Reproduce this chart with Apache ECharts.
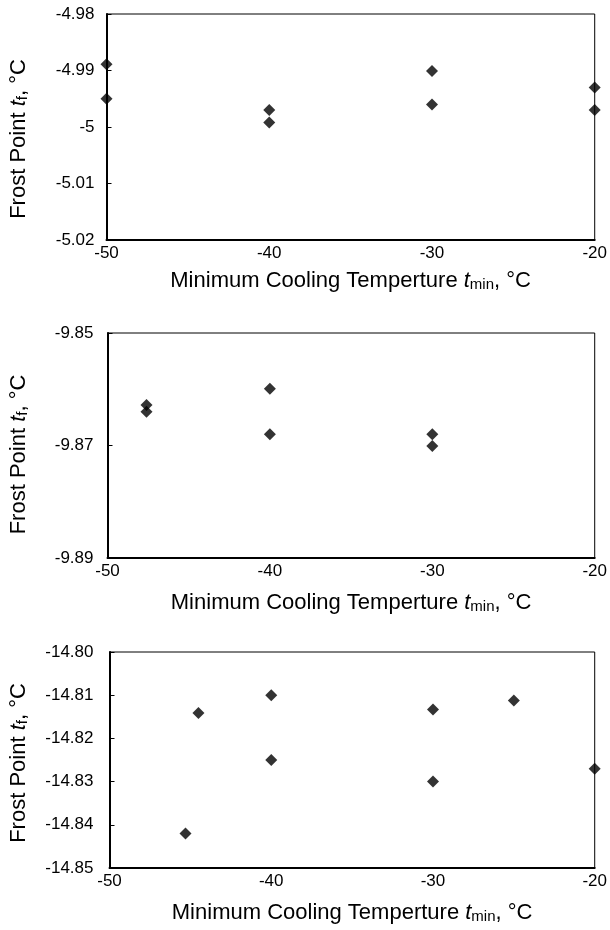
<!DOCTYPE html>
<html>
<head>
<meta charset="utf-8">
<script src="https://cdn.jsdelivr.net/npm/echarts@6/dist/echarts.min.js"></script>
<style>
  html, body { margin: 0; padding: 0; background: #fff; }
  #main { width: 610px; height: 930px; }
</style>
</head>
<body>
<div id="main"></div>
<script>
// x ticks shared by all three panels
var xTicks = [-50, -40, -30, -20];

// panel 1 : frost point around -5 C
var xs1 = [-50, -50, -40, -40, -30, -30, -20, -20];
var ys1 = [-4.9889, -4.995, -4.997, -4.9992, -4.9901, -4.996, -4.993, -4.997];
var yTicks1 = ['-4.98', '-4.99', '-5', '-5.01', '-5.02'];

// panel 2 : frost point around -9.87 C
var xs2 = [-47.6, -47.6, -40, -40, -30, -30];
var ys2 = [-9.8628, -9.864, -9.8599, -9.868, -9.868, -9.8701];
var yTicks2 = ['-9.85', '-9.87', '-9.89'];

// panel 3 : frost point around -14.82 C
var xs3 = [-45.3, -44.5, -40, -40, -30, -30, -25, -20];
var ys3 = [-14.842, -14.8141, -14.810, -14.825, -14.8133, -14.830, -14.8112, -14.827];
var yTicks3 = ['-14.80', '-14.81', '-14.82', '-14.83', '-14.84', '-14.85'];

var FONT = 'Liberation Sans';

function pairs(xs, ys) {
  return xs.map(function (x, i) { return [x, ys[i]]; });
}

function labelFor(ticks) {
  return function (v) {
    for (var i = 0; i < ticks.length; i++) {
      if (Math.abs(parseFloat(ticks[i]) - v) < 1e-6) return ticks[i];
    }
    return '';
  };
}

var xName = '{a|Minimum Cooling Temperture }{i|t}{s|min}{a|, °C}';
var yName = '{a|Frost Point }{i|t}{s|f}{a|, °C}';
var nameRich = {
  a: { fontFamily: FONT, fontSize: 22, color: '#000' },
  i: { fontFamily: FONT, fontSize: 22, fontStyle: 'italic', color: '#000' },
  s: { fontFamily: FONT, fontSize: 15, color: '#000', padding: [8, 0, 0, 0] }
};

// layout per panel
var panels = [
  { left: 106, top: 14, right: 13, height: 226, xGap: 29, yGap: 76, labMargin: 12, yShift: 24 },
  { left: 107, top: 333, right: 13, height: 225, xGap: 33, yGap: 77, labMargin: 14, yShift: 18 },
  { left: 108, top: 652, right: 9, height: 216, xGap: 33, yGap: 79, labMargin: 16, yShift: 6 }
];

var yRanges = [
  { min: -5.02, max: -4.98, interval: 0.01, ticks: yTicks1 },
  { min: -9.89, max: -9.85, interval: 0.02, ticks: yTicks2 },
  { min: -14.85, max: -14.80, interval: 0.01, ticks: yTicks3 }
];

var grids = [], xAxes = [], yAxes = [], series = [];
[pairs(xs1, ys1), pairs(xs2, ys2), pairs(xs3, ys3)].forEach(function (data, k) {
  var p = panels[k], r = yRanges[k];
  grids.push({
    show: true, borderColor: '#000', borderWidth: 1,
    left: p.left, top: p.top, right: p.right, height: p.height
  });
  xAxes.push({
    type: 'value', gridIndex: k, min: xTicks[0], max: xTicks[xTicks.length - 1], interval: 10,
    splitLine: { show: false },
    axisLine: { show: true, lineStyle: { color: '#000', width: 2 } },
    axisTick: { show: false },
    axisLabel: { color: '#000', fontFamily: FONT, fontSize: 17, margin: 5 },
    name: xName, nameLocation: 'middle', nameGap: p.xGap,
    nameTextStyle: { rich: nameRich }
  });
  yAxes.push({
    type: 'value', gridIndex: k, min: r.min, max: r.max, interval: r.interval,
    splitLine: { show: false },
    axisLine: { show: true, lineStyle: { color: '#000', width: 2 } },
    axisTick: { show: true, inside: true, length: 5, lineStyle: { color: '#000' } },
    axisLabel: { color: '#000', fontFamily: FONT, fontSize: 17, margin: p.labMargin, formatter: labelFor(r.ticks) },
    name: yName, nameLocation: 'middle', nameGap: p.yGap,
    nameTextStyle: { rich: nameRich, padding: [0, p.yShift, 0, 0] }
  });
  series.push({
    type: 'scatter', xAxisIndex: k, yAxisIndex: k,
    symbol: 'diamond', symbolSize: 12,
    itemStyle: { color: '#000' },
    data: data
  });
});

var chart = echarts.init(document.getElementById('main'));
chart.setOption({
  animation: false,
  backgroundColor: '#fff',
  grid: grids,
  xAxis: xAxes,
  yAxis: yAxes,
  series: series
});
</script>
</body>
</html>
